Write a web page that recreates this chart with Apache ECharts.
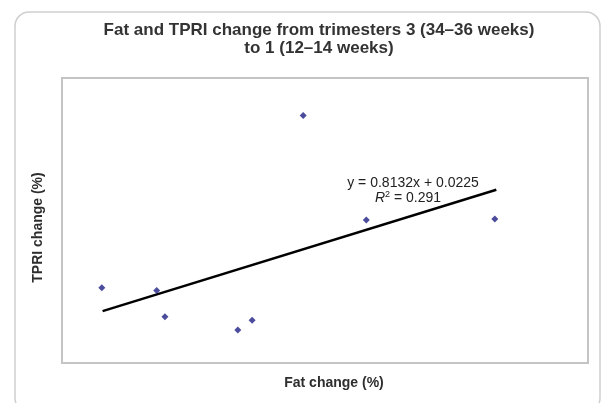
<!DOCTYPE html>
<html>
<head>
<meta charset="utf-8">
<script src="https://cdn.jsdelivr.net/npm/echarts@6/dist/echarts.min.js"></script>
<style>
html,body{margin:0;padding:0;background:#fff;}
#chart{width:606px;height:403px;}
</style>
</head>
<body>
<div id="chart"></div>
<script>
// Data (fractional change)
const fatChange  = [-0.297, -0.224, -0.213, -0.116, -0.097, -0.029, 0.055, 0.226];
const tpriChange = [-0.136, -0.146, -0.238, -0.284, -0.250, 0.468, 0.102, 0.105];
// Trend line end points
const trendX = [-0.296, 0.228];
const trendY = [-0.218, 0.208];
const titleLines = ['Fat and TPRI change from trimesters 3 (34\u201336 weeks)', 'to 1 (12\u201314 weeks)'];
const xName = 'Fat change (%)';
const yName = 'TPRI change (%)';
const eqLine = 'y = 0.8132x + 0.0225';
const r2Value = '0.291';

const points = fatChange.map((x, i) => [x, tpriChange[i]]);
const trend = trendX.map((x, i) => [x, trendY[i]]);

const FONT = '"Liberation Sans", Arial, Helvetica, sans-serif';
const chart = echarts.init(document.getElementById('chart'));
chart.setOption({
  animation: false,
  backgroundColor: '#ffffff',
  grid: {
    left: 62, top: 78, width: 526, height: 285,
    show: true, borderColor: '#c4c4c4', borderWidth: 2, backgroundColor: 'transparent'
  },
  xAxis: {
    type: 'value', min: -0.35, max: 0.35,
    axisLine: {show: false}, axisTick: {show: false}, axisLabel: {show: false}, splitLine: {show: false},
    name: xName, nameLocation: 'middle', nameGap: 13,
    nameTextStyle: {fontFamily: FONT, fontWeight: 'bold', fontSize: 14, color: '#2e2e2e', padding: [0, 0, 0, 18]}
  },
  yAxis: {
    type: 'value', min: -0.4, max: 0.6,
    axisLine: {show: false}, axisTick: {show: false}, axisLabel: {show: false}, splitLine: {show: false},
    name: yName, nameLocation: 'middle', nameGap: 17,
    nameTextStyle: {fontFamily: FONT, fontWeight: 'bold', fontSize: 14, color: '#2e2e2e', padding: [0, 14, 0, 0]}
  },
  graphic: [
    {
      type: 'rect', z: -10,
      shape: {x: 15, y: 12, width: 585, height: 400, r: 14},
      style: {fill: '#fff', stroke: '#cfcfcf', lineWidth: 1.5}
    },
    {
      type: 'text', z: 10,
      style: {
        text: titleLines.join('\n'), x: 319, y: 39,
        align: 'center', verticalAlign: 'middle', lineHeight: 18,
        font: 'bold 17px ' + FONT, fill: '#333'
      }
    },
    {
      type: 'text', z: 10,
      style: {
        text: eqLine, x: 413, y: 183, align: 'center', verticalAlign: 'middle',
        font: '14px ' + FONT, fill: '#222'
      }
    },
    {
      type: 'text', z: 10,
      style: {
        text: '{i|R}{s|2} = ' + r2Value, x: 408, y: 198, align: 'center', verticalAlign: 'middle',
        font: '14px ' + FONT, fill: '#222',
        rich: {
          i: {fontStyle: 'italic', fontSize: 14, fontFamily: FONT, fill: '#222'},
          s: {fontSize: 9, fontFamily: FONT, verticalAlign: 'top', fill: '#222', padding: [0, 0, 6, 0]}
        }
      }
    }
  ],
  series: [
    {
      type: 'line', data: trend, symbol: 'none', z: 2,
      lineStyle: {color: '#000', width: 2.5}
    },
    {
      type: 'scatter', data: points, symbol: 'diamond', symbolSize: 7, z: 3,
      itemStyle: {color: '#1f1f85'}
    }
  ]
});
</script>
</body>
</html>
